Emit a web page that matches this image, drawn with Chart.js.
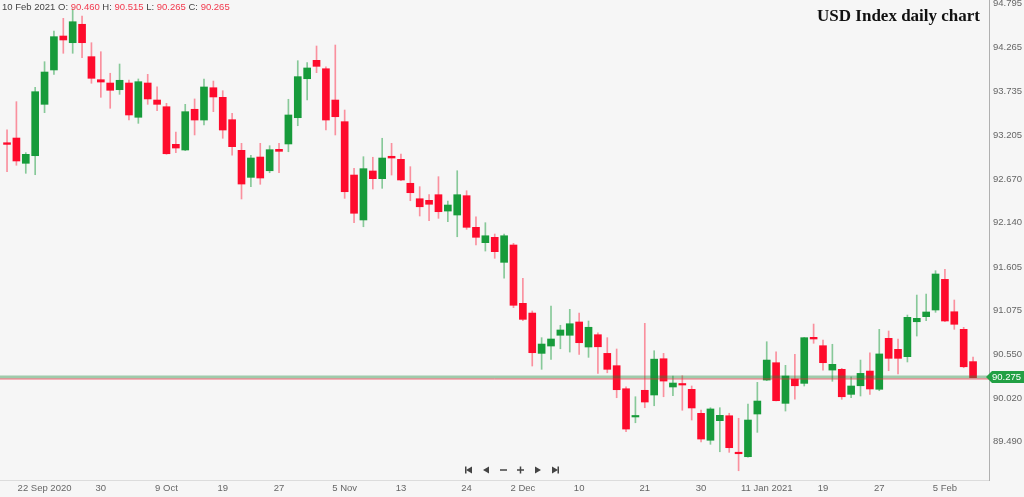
<!DOCTYPE html>
<html>
<head>
<meta charset="utf-8">
<script src="https://cdn.jsdelivr.net/npm/chart.js@4.4.1/dist/chart.umd.min.js"></script>
<style>
  body { margin: 0; background: #f6f6f6; font-family: "Liberation Sans", Arial, sans-serif; }
  #wrap { position: relative; width: 1024px; height: 497px; }
  #head { position: absolute; left: 2px; top: 1px; font-size: 9.5px; color: #444; white-space: pre; }
  #head span { color: #f2394d; }
  #title { position: absolute; right: 44px; top: 6px; font: bold 17px "Liberation Serif", "Times New Roman", serif; color: #111; }
</style>
</head>
<body>
<div id="wrap">
  <canvas id="chart"></canvas>
  <div id="head"></div>
  <div id="title">USD Index daily chart</div>
</div>
<script>
/* DATA (daily OHLC, 16 Sep 2020 - 10 Feb 2021) */
const lastDate = "10 Feb 2021";

const openVals = [
  93.110, 93.167, 92.861, 92.953, 93.575, 93.991, 94.402, 94.321, 94.544, 94.152,
  93.873, 93.833, 93.752, 93.833, 93.418, 93.833, 93.627, 93.546, 93.091, 93.022,
  93.515, 93.385, 93.776, 93.660, 93.389, 93.018, 92.691, 92.937, 92.771, 93.030,
  93.095, 93.413, 93.885, 94.108, 94.006, 93.627, 93.365, 92.719, 92.175, 92.768,
  92.675, 92.946, 92.909, 92.619, 92.432, 92.413, 92.481, 92.283, 92.235, 92.469,
  92.086, 91.900, 91.965, 91.662, 91.872, 91.166, 91.048, 90.560, 90.649, 90.779,
  90.779, 90.940, 90.637, 90.786, 90.560, 90.411, 90.132, 89.790, 90.113, 90.056,
  90.495, 90.153, 90.193, 90.125, 89.834, 89.508, 89.745, 89.805, 89.357, 89.309,
  89.826, 90.237, 90.447, 89.955, 90.250, 90.197, 90.754, 90.653, 90.358, 90.367,
  90.064, 90.168, 90.346, 90.125, 90.742, 90.609, 90.520, 90.943, 91.004, 91.085,
  91.456, 91.064, 90.851, 90.460
];
const highVals = [
  93.265, 93.607, 92.990, 93.781, 94.091, 94.463, 94.616, 94.729, 94.644, 94.321,
  94.212, 93.951, 94.063, 93.869, 93.882, 93.938, 93.788, 93.587, 93.240, 93.575,
  93.640, 93.882, 93.857, 93.740, 93.466, 93.103, 92.958, 93.103, 93.074, 93.103,
  93.636, 94.103, 94.079, 94.281, 94.030, 94.293, 93.506, 92.800, 92.941, 92.934,
  93.164, 93.103, 92.973, 92.820, 92.578, 92.481, 92.699, 92.405, 92.771, 92.529,
  92.214, 92.142, 92.005, 92.005, 91.892, 91.469, 91.073, 90.750, 91.133, 90.900,
  91.093, 91.048, 90.952, 90.810, 90.750, 90.613, 90.156, 90.035, 90.924, 90.592,
  90.560, 90.286, 90.290, 90.165, 89.874, 89.902, 89.902, 89.835, 89.774, 89.947,
  90.209, 90.701, 90.580, 90.415, 90.548, 90.754, 90.915, 90.722, 90.670, 90.379,
  90.277, 90.479, 90.568, 90.851, 90.831, 90.734, 91.024, 91.266, 91.279, 91.561,
  91.578, 91.206, 90.875, 90.515
];
const lowVals = [
  92.760, 92.837, 92.740, 92.723, 93.474, 93.938, 94.193, 94.193, 94.139, 93.830,
  93.660, 93.527, 93.696, 93.385, 93.345, 93.575, 93.498, 92.970, 92.989, 93.014,
  93.204, 93.325, 93.486, 93.164, 92.958, 92.429, 92.578, 92.607, 92.747, 92.747,
  93.001, 93.316, 93.627, 93.958, 93.264, 93.204, 92.437, 92.142, 92.093, 92.550,
  92.558, 92.719, 92.650, 92.408, 92.223, 92.166, 92.195, 92.154, 91.972, 92.062,
  91.872, 91.799, 91.711, 91.469, 91.113, 90.955, 90.407, 90.367, 90.488, 90.616,
  90.576, 90.548, 90.512, 90.318, 90.325, 90.023, 89.612, 89.720, 89.902, 89.926,
  90.035, 90.047, 89.871, 89.753, 89.487, 89.459, 89.369, 89.362, 89.139, 89.302,
  89.604, 90.230, 89.983, 89.862, 90.007, 90.165, 90.682, 90.358, 90.222, 90.004,
  90.023, 90.044, 90.064, 90.108, 90.350, 90.310, 90.456, 90.770, 90.955, 91.057,
  90.943, 90.851, 90.386, 90.265
];
const closeVals = [
  93.090, 92.889, 92.970, 93.728, 93.966, 94.394, 94.354, 94.575, 94.321, 93.890,
  93.845, 93.745, 93.866, 93.446, 93.849, 93.640, 93.575, 92.977, 93.046, 93.486,
  93.385, 93.785, 93.664, 93.264, 93.062, 92.610, 92.925, 92.683, 93.026, 93.006,
  93.446, 93.910, 94.015, 94.035, 93.385, 93.425, 92.517, 92.256, 92.796, 92.675,
  92.925, 92.925, 92.659, 92.505, 92.335, 92.365, 92.275, 92.356, 92.481, 92.086,
  91.965, 91.984, 91.791, 91.984, 91.142, 90.972, 90.568, 90.673, 90.734, 90.843,
  90.919, 90.689, 90.876, 90.640, 90.367, 90.120, 89.644, 89.802, 89.971, 90.490,
  90.225, 90.201, 90.177, 89.899, 89.523, 89.887, 89.810, 89.418, 89.345, 89.753,
  89.983, 90.479, 89.987, 90.286, 90.168, 90.750, 90.734, 90.447, 90.427, 90.035,
  90.165, 90.318, 90.129, 90.553, 90.500, 90.500, 90.996, 90.984, 91.061, 91.521,
  90.952, 90.912, 90.398, 90.265
];

/* x tick labels sit on these candle indexes */
const tickIdx = [4, 10, 17, 23, 29, 36, 42, 49, 55, 61, 68, 74, 81, 87, 93, 100];
const tickText = ["22 Sep 2020", "30", "9 Oct", "19", "27", "5 Nov", "13", "24",
                  "2 Dec", "10", "21", "30", "11 Jan 2021", "19", "27", "5 Feb"];

/* price axis */
const priceTicks = [89.490, 90.020, 90.550, 91.075, 91.605, 92.140, 92.670, 93.205, 93.735, 94.265, 94.795];
const priceMin = 89.027;
const priceMax = 94.838;
const lastPrice = 90.275;
const bidPrice = 90.250;

const tickFont = { size: 9.5, family: "'Liberation Sans', Arial, sans-serif" };

/* HEADER */
const n = openVals.length;
document.getElementById("head").innerHTML =
  lastDate + " O: <span>" + openVals[n - 1].toFixed(3) + "</span> H: <span>" + highVals[n - 1].toFixed(3) +
  "</span> L: <span>" + lowVals[n - 1].toFixed(3) + "</span> C: <span>" + closeVals[n - 1].toFixed(3) + "</span>";

/* CANDLES */
const idx = openVals.map((_, i) => i);
const up = idx.map(i => closeVals[i] >= openVals[i]);
const wickData = idx.map(i => ({ x: i, y: [lowVals[i], highVals[i]] }));
const bodyData = idx.map(i => ({ x: i, y: [openVals[i], closeVals[i]] }));

/* price lines, tag and scroll buttons */
const extras = {
  id: "extras",
  afterDatasetsDraw(chart) {
    const c = chart.ctx, a = chart.chartArea, ys = chart.scales.y;
    const yl = ys.getPixelForValue(lastPrice);
    const yb = ys.getPixelForValue(bidPrice);
    c.save();
    c.strokeStyle = "rgba(30,140,60,0.4)";
    c.lineWidth = 3;
    c.beginPath(); c.moveTo(a.left, yl); c.lineTo(a.right, yl); c.stroke();
    c.strokeStyle = "rgba(240,40,60,0.7)";
    c.lineWidth = 1;
    c.beginPath(); c.moveTo(a.left, yb); c.lineTo(a.right, yb); c.stroke();
    c.restore();
  },
  afterDraw(chart) {
    const c = chart.ctx, a = chart.chartArea, ys = chart.scales.y;
    const yl = Math.round(ys.getPixelForValue(lastPrice));
    c.save();
    // price tag
    c.fillStyle = "#22a044";
    c.beginPath();
    c.moveTo(a.right - 3, yl);
    c.lineTo(a.right + 3, yl - 6);
    c.lineTo(chart.width, yl - 6);
    c.lineTo(chart.width, yl + 6);
    c.lineTo(a.right + 3, yl + 6);
    c.closePath();
    c.fill();
    c.fillStyle = "#fff";
    c.font = "9.5px 'Liberation Sans', Arial, sans-serif";
    c.textBaseline = "middle";
    c.fillText(lastPrice.toFixed(3), a.right + 3, yl + 0.5);

    // scroll buttons
    const cx = chart.width / 2, cy = a.bottom - 10;
    c.fillStyle = "#444";
    c.strokeStyle = "#444";
    c.lineWidth = 1.5;
    const tri = (x, dir) => {
      c.beginPath();
      c.moveTo(x - 3 * dir, cy);
      c.lineTo(x + 3 * dir, cy - 3.5);
      c.lineTo(x + 3 * dir, cy + 3.5);
      c.closePath();
      c.fill();
    };
    tri(cx - 43, 1); c.fillRect(cx - 47, cy - 3.5, 1.5, 7);
    tri(cx - 26, 1);
    c.beginPath(); c.moveTo(cx - 12, cy); c.lineTo(cx - 5, cy); c.stroke();
    c.beginPath(); c.moveTo(cx + 5, cy); c.lineTo(cx + 12, cy);
    c.moveTo(cx + 8.5, cy - 3.5); c.lineTo(cx + 8.5, cy + 3.5); c.stroke();
    tri(cx + 26, -1);
    tri(cx + 43, -1); c.fillRect(cx + 45.5, cy - 3.5, 1.5, 7);
    c.restore();
  }
};

new Chart(document.getElementById("chart"), {
  type: "bar",
  data: {
    datasets: [
      {
        data: wickData,
        backgroundColor: up.map(u => u ? "rgba(24,155,60,0.5)" : "rgba(255,20,50,0.45)"),
        barThickness: 1,
        grouped: false,
        order: 2
      },
      {
        data: bodyData,
        backgroundColor: up.map(u => u ? "#179b3b" : "#fe0b2c"),
        barThickness: 7,
        minBarLength: 1.5,
        grouped: false,
        order: 1
      }
    ]
  },
  options: {
    responsive: true,
    maintainAspectRatio: false,
    animation: false,
    layout: { padding: 0 },
    plugins: { legend: { display: false }, tooltip: { enabled: false } },
    scales: {
      x: {
        type: "linear",
        offset: false,
        min: -0.75,
        max: 104.7,
        grid: { display: false, drawTicks: false },
        border: { color: "#dcdcdc" },
        ticks: {
          autoSkip: false,
          maxRotation: 0,
          padding: 3,
          color: "#666",
          font: tickFont,
          callback: v => tickText[tickIdx.indexOf(v)] || ""
        },
        afterBuildTicks: s => { s.ticks = tickIdx.map(v => ({ value: v })); },
        afterFit: s => { s.height = 17; s.paddingLeft = 0; s.paddingRight = 0; }
      },
      y: {
        position: "right",
        min: priceMin,
        max: priceMax,
        grid: { display: false, drawTicks: false },
        border: { color: "#b0b0b0" },
        ticks: {
          padding: 4,
          color: "#666",
          font: tickFont,
          callback: v => Number(v).toFixed(3)
        },
        afterBuildTicks: s => { s.ticks = priceTicks.map(v => ({ value: v })); },
        afterFit: s => { s.width = 35; s.paddingTop = 0; s.paddingBottom = 0; }
      }
    }
  },
  plugins: [extras]
});
</script>
</body>
</html>
